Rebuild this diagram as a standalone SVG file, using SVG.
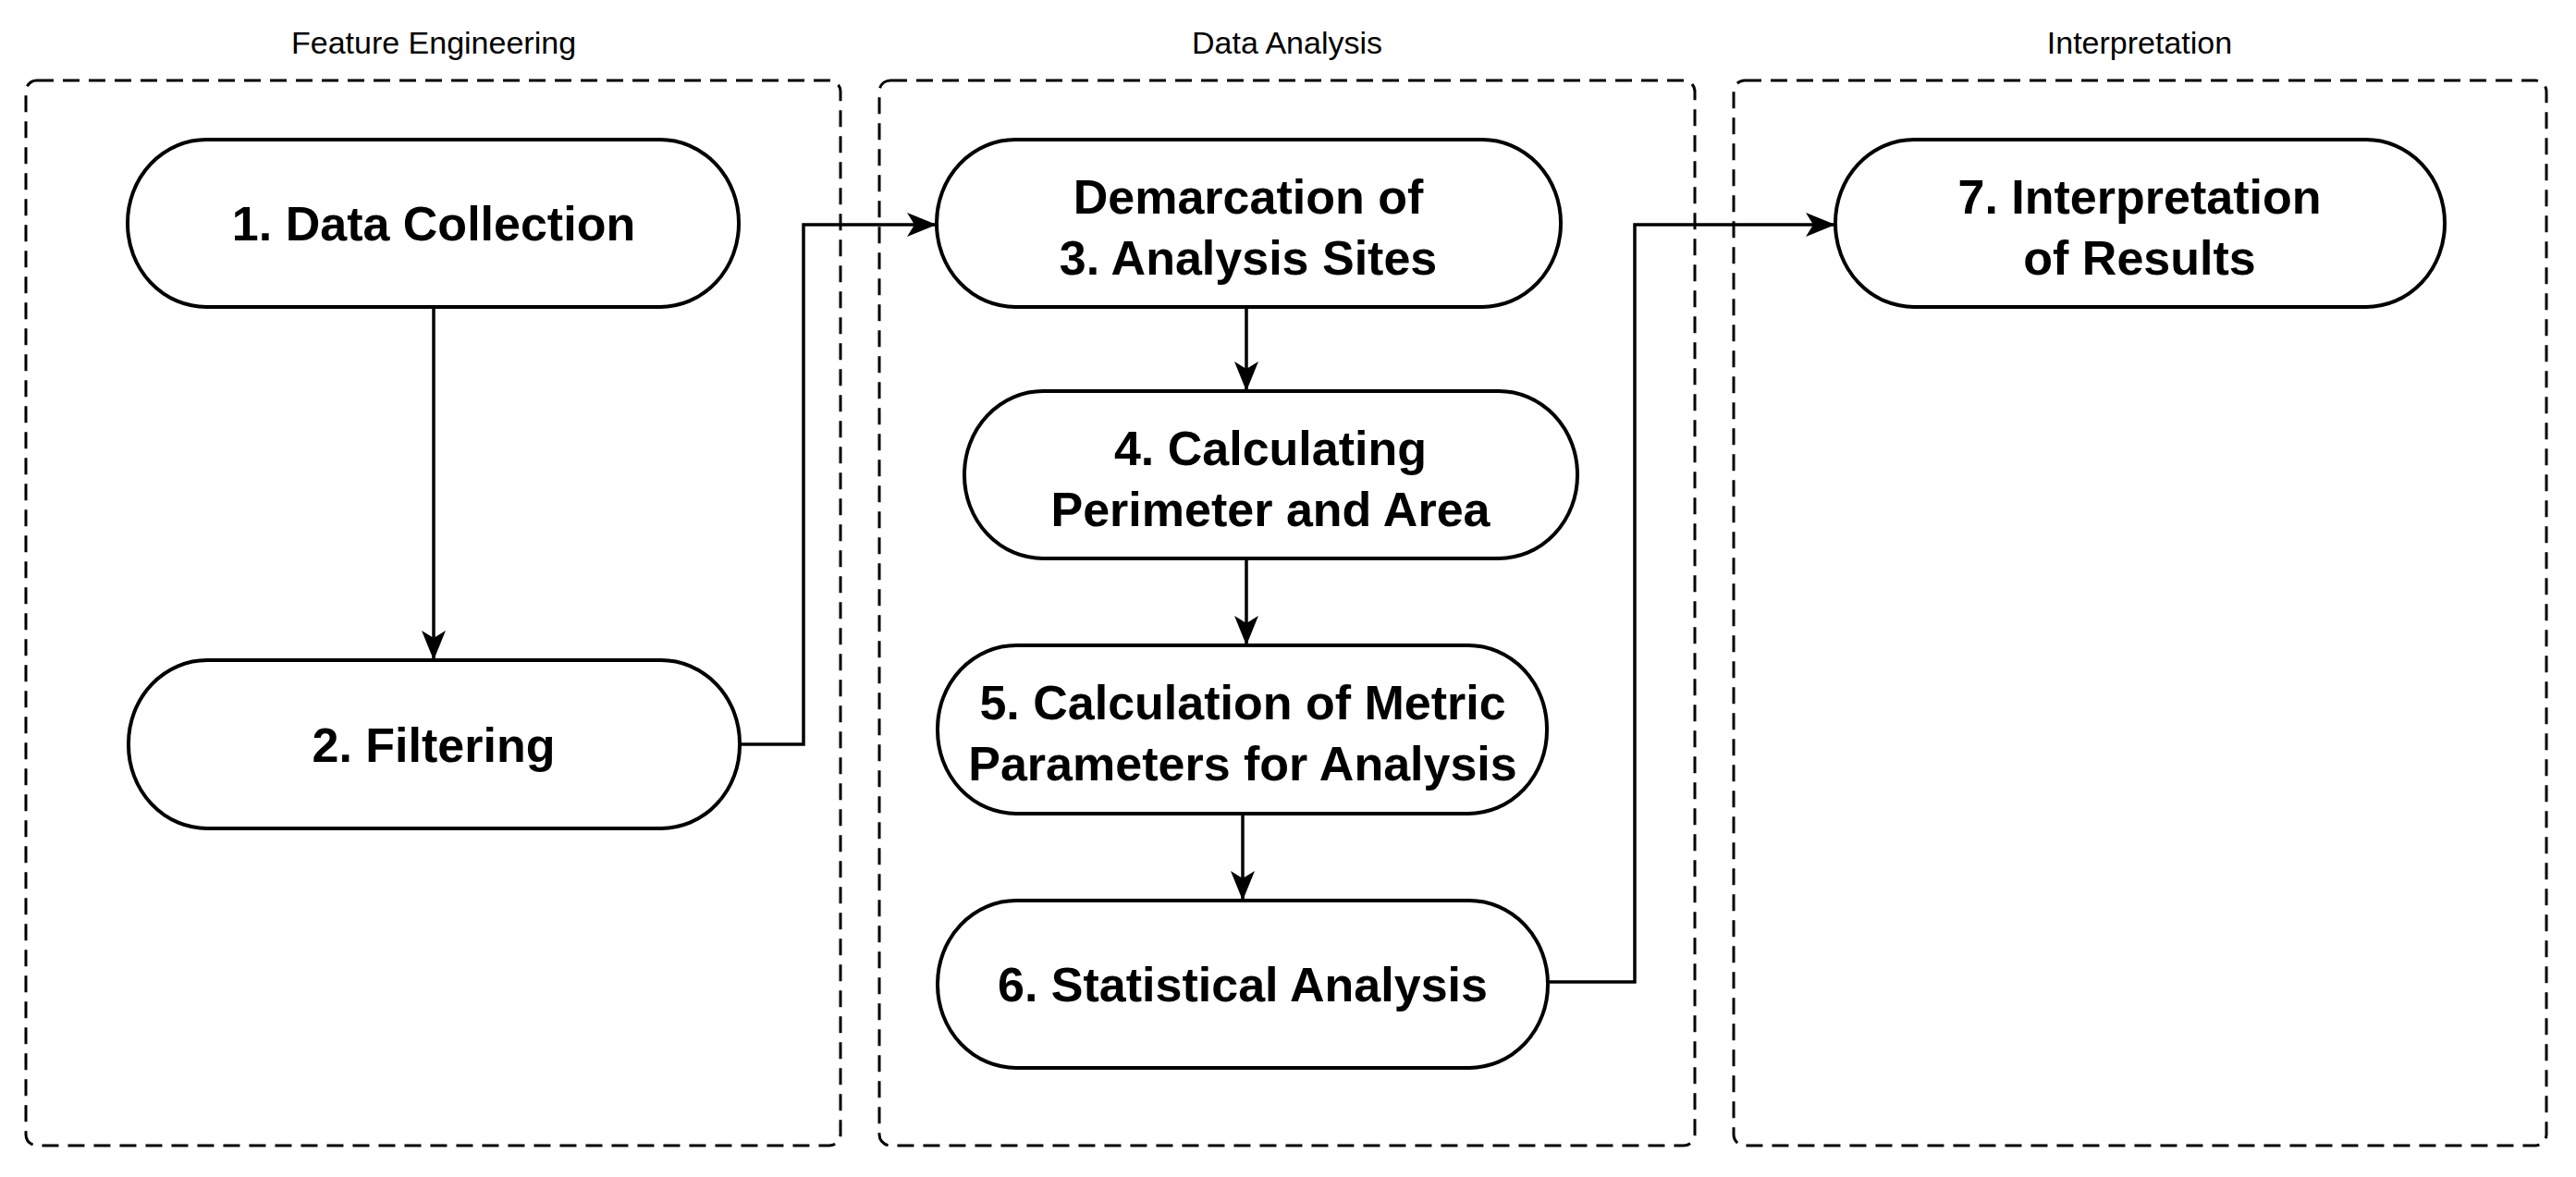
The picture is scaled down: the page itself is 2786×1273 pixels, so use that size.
<svg xmlns="http://www.w3.org/2000/svg" width="2786" height="1273" viewBox="0 0 2786 1273">
<style>
.c{fill:none;stroke:#000;stroke-width:3;stroke-dasharray:18 10}
.n{fill:#fff;stroke:#000;stroke-width:4}
.t{font-family:"Liberation Sans",Arial,sans-serif;font-weight:bold;font-size:52px;text-anchor:middle}
.h{font-family:"Liberation Sans",Arial,sans-serif;font-size:34px;text-anchor:middle}
.e{fill:none;stroke:#000;stroke-width:3.5}
</style>
<defs>
<marker id="a" markerUnits="userSpaceOnUse" markerWidth="34" markerHeight="26" refX="32" refY="13" orient="auto">
<path d="M0,0 L32,13 L0,26 L8,13 Z" fill="#000"/>
</marker>
</defs>
<rect width="2786" height="1273" fill="#fff"/>
<g id="containers">
<rect class="c" x="28" y="87" width="881" height="1152" rx="12"/>
<text class="h" x="469" y="58">Feature Engineering</text>
<rect class="c" x="951" y="87" width="882" height="1152" rx="12"/>
<text class="h" x="1392" y="58">Data Analysis</text>
<rect class="c" x="1875" y="87" width="879" height="1152" rx="12"/>
<text class="h" x="2314" y="58">Interpretation</text>
</g>
<g id="connectors">
<path class="e" d="M469,333 V714" marker-end="url(#a)"/>
<path class="e" d="M800,805 H869 V243 H1013" marker-end="url(#a)"/>
<path class="e" d="M1348,332 V423" marker-end="url(#a)"/>
<path class="e" d="M1348,604 V698" marker-end="url(#a)"/>
<path class="e" d="M1344,880 V974" marker-end="url(#a)"/>
<path class="e" d="M1674,1062 H1768 V243 H1985" marker-end="url(#a)"/>
</g>
<g id="n1"><rect class="n" x="138" y="151" width="661" height="181" rx="85" ry="90"/><text class="t" x="469" y="260">1. Data Collection</text></g>
<g id="n2"><rect class="n" x="139" y="714" width="661" height="182" rx="85" ry="90"/><text class="t" x="469" y="824">2. Filtering</text></g>
<g id="n3"><rect class="n" x="1013" y="151" width="675" height="181" rx="85" ry="90"/><text class="t" x="1350" y="231">Demarcation of</text><text class="t" x="1350" y="297">3. Analysis Sites</text></g>
<g id="n4"><rect class="n" x="1043" y="423" width="663" height="181" rx="85" ry="90"/><text class="t" x="1374" y="503">4. Calculating</text><text class="t" x="1374" y="569">Perimeter and Area</text></g>
<g id="n5"><rect class="n" x="1014" y="698" width="659" height="182" rx="85" ry="90"/><text class="t" x="1344" y="778">5. Calculation of Metric</text><text class="t" x="1344" y="844">Parameters for Analysis</text></g>
<g id="n6"><rect class="n" x="1014" y="974" width="660" height="181" rx="85" ry="90"/><text class="t" x="1344" y="1083">6. Statistical Analysis</text></g>
<g id="n7"><rect class="n" x="1985" y="151" width="659" height="181" rx="85" ry="90"/><text class="t" x="2314" y="231">7. Interpretation</text><text class="t" x="2314" y="297">of Results</text></g>
</svg>
